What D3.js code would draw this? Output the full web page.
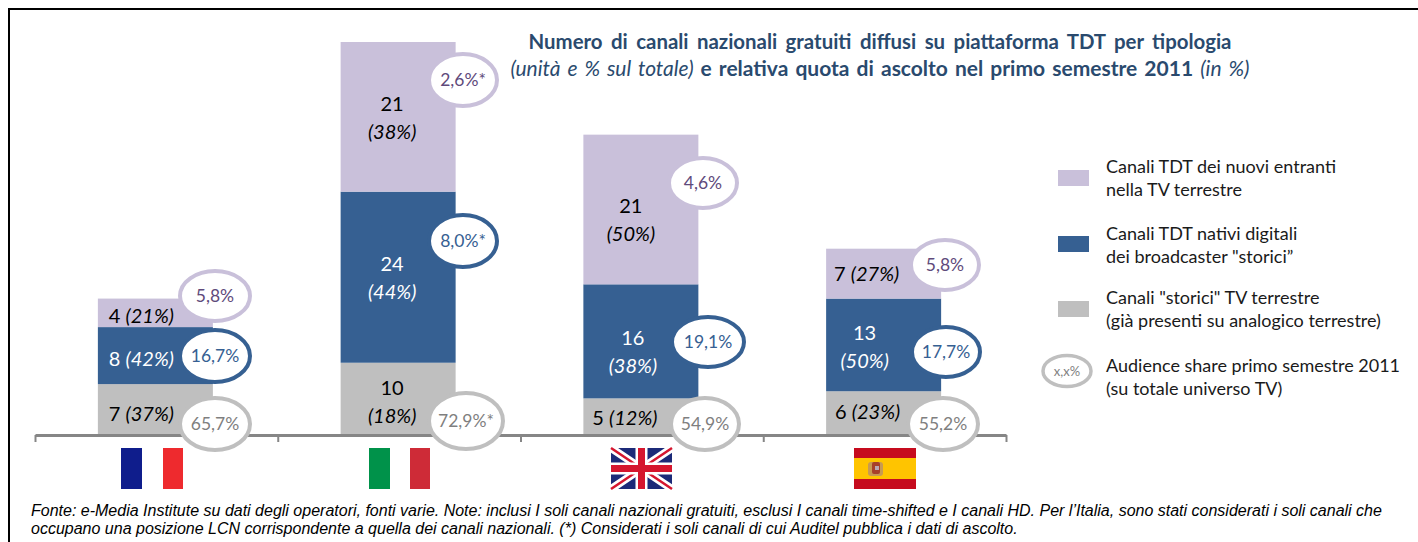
<!DOCTYPE html>
<html>
<head>
<meta charset="utf-8">
<script src="https://cdn.jsdelivr.net/npm/d3@7"></script>
<style>
  html, body { margin: 0; padding: 0; background: #fff; }
  svg { display: block; }
  text { font-family: Lato, "Open Sans", sans-serif; }
</style>
</head>
<body>
<svg id="chart" width="1418" height="542"></svg>
<script>
const countries = ["Francia", "Italia", "Regno Unito", "Spagna"];
const nuovi = [4, 21, 21, 7];
const nativi = [8, 24, 16, 13];
const storici = [7, 10, 5, 6];
const nuoviPct = ["21%", "38%", "50%", "27%"];
const nativiPct = ["42%", "44%", "38%", "50%"];
const storiciPct = ["37%", "18%", "12%", "23%"];
const nuoviShare = ["5,8%", "2,6%*", "4,6%", "5,8%"];
const nativiShare = ["16,7%", "8,0%*", "19,1%", "17,7%"];
const storiciShare = ["65,7%", "72,9%*", "54,9%", "55,2%"];

const purple = "#c9c0da";
const blue = "#366092";
const grey = "#bfbfbf";

const width = 1418;
const height = 542;
const barWidth = 115;

const svg = d3.select("#chart");

const defs = svg.append("defs");
defs
  .append("filter")
  .attr("id", "soft")
  .append("feGaussianBlur")
  .attr("stdDeviation", 0.5);

const x = d3.scaleBand().domain(countries).range([36, 1007]);
const y = d3.scaleLinear().domain([0, 55]).range([434, 42]);

// bars sit a bit left of the band centre in the original
const barX = (i) => x(countries[i]) + (x.bandwidth() - barWidth) / 2 - 2;

// frame: only top and left sides are visible
svg
  .append("path")
  .attr("d", `M9,${height} V9 H${width}`)
  .attr("fill", "none")
  .attr("stroke", "#000")
  .attr("stroke-width", 2);

const series = [
  { name: "storici", values: storici, pct: storiciPct, share: storiciShare, fill: grey, text: "#000", shareText: "#7f7f7f", base: () => 0 },
  { name: "nativi", values: nativi, pct: nativiPct, share: nativiShare, fill: blue, text: "#fff", shareText: "#366092", base: (i) => storici[i] },
  { name: "nuovi", values: nuovi, pct: nuoviPct, share: nuoviShare, fill: purple, text: "#000", shareText: "#604a7b", base: (i) => storici[i] + nativi[i] },
];

// label tweaks per series and country, in pixels from the segment centre
const labelDx = {
  storici: [-14, -6, -16, -16],
  nativi: [-14, -6, -8, -19],
  nuovi: [-14, -6, -10, -17],
};
const twoLines = {
  storici: [false, true, false, false],
  nativi: [false, true, true, true],
  nuovi: [false, true, true, false],
};
const labelDy = {
  storici: [6, 4, 3, 0],
  nativi: [4, 1, 11, 2],
  nuovi: [4, 1, 11, 1],
};
const bubbleCx = {
  storici: [215, 466, 705, 943],
  nativi: [215, 463, 708, 946],
  nuovi: [215, 463, 703, 945],
};
const bubbleCy = {
  storici: [424, 421, 424, 424],
  nativi: [356, 241, 342, 352],
  nuovi: [296, 80, 183, 265],
};
const bubbleRx = { storici: [35, 37, 34, 35], nativi: [35, 34, 36, 34], nuovi: [35, 34, 34, 34] };
const bubbleRy = { storici: [26, 28, 26, 26], nativi: [26, 26, 25, 25], nuovi: [25, 26, 25, 25] };

// x axis: line and ticks between the countries, no labels
const boundaries = d3.range(countries.length + 1);
const xTicks = d3.scalePoint().domain(boundaries).range(x.range());
const axis = d3.axisBottom(xTicks).tickSize(7).tickSizeOuter(0).tickFormat("");
const axisG = svg.append("g").attr("transform", "translate(-1,435)").call(axis);
axisG.select(".domain").attr("stroke", "#868686").attr("stroke-width", 3);
axisG.selectAll(".tick line").attr("stroke", "#868686").attr("stroke-width", 2);

// bars
series.forEach((s) => {
  svg
    .selectAll(`.bar-${s.name}`)
    .data(s.values)
    .enter()
    .append("rect")
    .attr("class", `bar-${s.name}`)
    .attr("x", (d, i) => barX(i))
    .attr("y", (d, i) => y(s.base(i) + d))
    .attr("width", barWidth)
    .attr("height", (d) => y(0) - y(d))
    .attr("fill", s.fill);
});

// value labels
series.forEach((s) => {
  s.values.forEach((v, i) => {
    const cx = barX(i) + barWidth / 2 + labelDx[s.name][i];
    const cy = y(s.base(i) + v / 2) + labelDy[s.name][i];
    const t = svg
      .append("text")
      .attr("x", cx)
      .attr("text-anchor", "middle")
      .attr("font-size", 20)
      .attr("fill", s.text);
    if (twoLines[s.name][i]) {
      t.attr("y", cy - 7).text(v);
      svg
        .append("text")
        .attr("x", cx)
        .attr("y", cy + 21)
        .attr("text-anchor", "middle")
        .attr("font-size", 20)
        .attr("font-style", "italic")
        .attr("fill", s.text)
        .text(`(${s.pct[i]})`);
    } else {
      t.attr("y", cy + 6);
      t.append("tspan").text(`${v} `);
      t.append("tspan").attr("font-style", "italic").text(`(${s.pct[i]})`);
    }
  });
});

// share bubbles
series.forEach((s) => {
  s.share.forEach((label, i) => {
    const cx = bubbleCx[s.name][i];
    const cy = bubbleCy[s.name][i];
    svg
      .append("ellipse")
      .attr("cx", cx)
      .attr("cy", cy)
      .attr("rx", bubbleRx[s.name][i])
      .attr("ry", bubbleRy[s.name][i])
      .attr("fill", "#fff")
      .attr("stroke", s.fill)
      .attr("stroke-width", 4);
    svg
      .append("text")
      .attr("x", cx)
      .attr("y", cy + 6)
      .attr("text-anchor", "middle")
      .attr("font-size", 17.5)
      .attr("fill", s.shareText)
      .text(label);
  });
});

// flags
const flagY = 448;
const flagW = 62;
const flagH = 41;
const flagX = [121, 369, 611, 854];

const fr = svg.append("g").attr("transform", `translate(${flagX[0]},${flagY})`);
fr.append("rect").attr("width", 21).attr("height", flagH).attr("fill", "#0f1d8c");
fr.append("rect").attr("x", 42).attr("width", 20).attr("height", flagH).attr("fill", "#ee2a2e");

const it = svg.append("g").attr("transform", `translate(${flagX[1]},${flagY})`);
it.append("rect").attr("width", 21).attr("height", flagH).attr("fill", "#00924a");
it.append("rect").attr("x", 41).attr("width", 20).attr("height", flagH).attr("fill", "#ce2b37");

const uk = svg.append("g").attr("transform", `translate(${flagX[2]},${flagY})`).attr("filter", "url(#soft)");
uk.append("rect").attr("width", 61).attr("height", flagH).attr("fill", "#1c2a78");
uk.append("path").attr("d", "M0,0 L61,41 M61,0 L0,41").attr("stroke", "#fff").attr("stroke-width", 8);
uk.append("path").attr("d", "M0,0 L61,41 M61,0 L0,41").attr("stroke", "#d5152f").attr("stroke-width", 2.5);
uk.append("path").attr("d", "M30.5,0 V41 M0,20.5 H61").attr("stroke", "#fff").attr("stroke-width", 12);
uk.append("path").attr("d", "M30.5,0 V41 M0,20.5 H61").attr("stroke", "#d5152f").attr("stroke-width", 7);

const es = svg.append("g").attr("transform", `translate(${flagX[3]},${flagY})`);
es.append("rect").attr("width", flagW).attr("height", flagH).attr("fill", "#c60b1e");
es.append("rect").attr("y", 10).attr("width", flagW).attr("height", 21).attr("fill", "#ffc400");
const crest = es.append("g").attr("filter", "url(#soft)");
crest.append("rect").attr("x", 14).attr("y", 14).attr("width", 15).attr("height", 14).attr("rx", 3).attr("fill", "#c79a52");
crest.append("rect").attr("x", 18).attr("y", 14).attr("width", 8).attr("height", 12).attr("rx", 2).attr("fill", "#a8402c");
crest.append("rect").attr("x", 21).attr("y", 18).attr("width", 4).attr("height", 4).attr("fill", "#b9a7b5");

// title
svg
  .append("text")
  .attr("x", 880)
  .attr("y", 49)
  .attr("text-anchor", "middle")
  .attr("font-size", 20.4)
  .attr("font-weight", 700)
  .attr("fill", "#2a4a6e")
  .attr("word-spacing", 3.5)
  .text("Numero di canali nazionali gratuiti diffusi su piattaforma TDT per tipologia");

const subtitle = svg
  .append("text")
  .attr("x", 880)
  .attr("y", 76)
  .attr("text-anchor", "middle")
  .attr("font-size", 21)
  .attr("fill", "#2a4a6e")
  .attr("word-spacing", 2);
subtitle.append("tspan").attr("font-style", "italic").text("(unità e % sul totale) ");
subtitle.append("tspan").attr("font-weight", 700).text("e relativa quota di ascolto nel primo semestre 2011 ");
subtitle.append("tspan").attr("font-style", "italic").text("(in %)");

// legend
const legendLabels = [
  ["Canali TDT dei nuovi entranti", "nella TV terrestre"],
  ["Canali TDT nativi digitali", "dei broadcaster \"storici”"],
  ["Canali \"storici\" TV terrestre", "(già presenti su analogico terrestre)"],
  ["Audience share primo semestre 2011", "(su totale universo TV)"],
];
const legendFills = [purple, blue, grey];
const legendBoxY = [170, 236, 301];
const legendTextY = [173, 240, 304, 372];

svg
  .selectAll(".legend-box")
  .data(legendFills)
  .enter()
  .append("rect")
  .attr("class", "legend-box")
  .attr("x", 1058)
  .attr("y", (d, i) => legendBoxY[i])
  .attr("width", 31)
  .attr("height", 16)
  .attr("fill", (d) => d);

svg
  .append("ellipse")
  .attr("cx", 1067)
  .attr("cy", 371)
  .attr("rx", 24)
  .attr("ry", 15.5)
  .attr("fill", "#fff")
  .attr("stroke", grey)
  .attr("stroke-width", 3.5);
svg
  .append("text")
  .attr("x", 1067)
  .attr("y", 376)
  .attr("text-anchor", "middle")
  .attr("font-size", 13)
  .attr("fill", "#7f7f7f")
  .text("x,x%");

legendLabels.forEach((lines, i) => {
  lines.forEach((line, j) => {
    svg
      .append("text")
      .attr("x", 1106)
      .attr("y", legendTextY[i] + j * 23)
      .attr("font-size", 18)
      .attr("fill", "#1a1a1a")
      .text(line);
  });
});

// source note
const noteLines = [
  "Fonte: e-Media Institute su dati degli operatori, fonti varie. Note: inclusi I soli canali nazionali gratuiti, esclusi I canali time-shifted e I canali HD. Per l’Italia, sono stati considerati i soli canali che",
  "occupano una posizione LCN corrispondente a quella dei canali nazionali. (*) Considerati i soli canali di cui Auditel pubblica i dati di ascolto.",
];
svg
  .selectAll(".note")
  .data(noteLines)
  .enter()
  .append("text")
  .attr("class", "note")
  .attr("x", 31)
  .attr("y", (d, i) => 516 + i * 18)
  .attr("font-size", 16)
  .attr("font-style", "italic")
  .style("font-family", "'Liberation Sans', Arial, sans-serif")
  .attr("fill", "#000")
  .text((d) => d);
</script>
</body>
</html>
